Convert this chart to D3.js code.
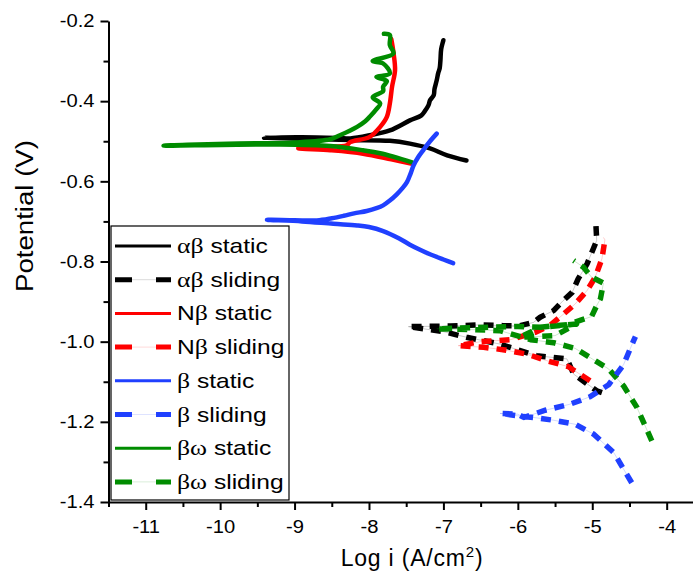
<!DOCTYPE html>
<html>
<head>
<meta charset="utf-8">
<script src="https://d3js.org/d3.v7.min.js"></script>
<style>
body{margin:0;background:#fff;}
text{font-family:"Liberation Sans",Arial,sans-serif;fill:#000;}
</style>
</head>
<body>
<div class="canvas"></div>
<script>
// Tafel curves: [log i, potential] pairs, cathodic end -> Ecorr -> anodic end
var abStatic = [[-6.69,-0.548],[-6.95,-0.535],[-7.18,-0.518],[-7.45,-0.506],[-7.72,-0.499],[-8.25,-0.497],[-8.6,-0.495],[-9.41,-0.491],[-8.9,-0.49],[-8.4,-0.492],[-8.25,-0.493],[-7.99,-0.485],[-7.72,-0.473],[-7.45,-0.448],[-7.3,-0.436],[-7.25,-0.425],[-7.2,-0.41],[-7.18,-0.398],[-7.13,-0.385],[-7.12,-0.37],[-7.09,-0.348],[-7.07,-0.33],[-7.05,-0.318],[-7.04,-0.298],[-7.03,-0.27],[-7.0,-0.248]];
var abSliding = [[-4.87,-1.127],[-4.94,-1.1225],[-5.25,-1.081],[-5.34,-1.043],[-5.75,-1.035],[-6.24,-1.006],[-6.69,-0.989],[-7.0,-0.975],[-7.47,-0.9625],[-6.9,-0.961],[-6.5,-0.958],[-6.2,-0.96],[-5.97,-0.96],[-5.79,-0.952],[-5.7,-0.939],[-5.52,-0.9225],[-5.39,-0.8975],[-5.27,-0.877],[-5.19,-0.8435],[-5.07,-0.806],[-5.01,-0.779],[-4.94,-0.7475],[-4.95,-0.712]];
var nbStatic = [[-7.42,-0.556],[-7.7,-0.545],[-8.08,-0.531],[-8.52,-0.5225],[-8.95,-0.5175],[-8.6,-0.514],[-8.3,-0.51],[-8.25,-0.502],[-7.99,-0.489],[-7.85,-0.464],[-7.76,-0.439],[-7.72,-0.406],[-7.69,-0.364],[-7.65,-0.3225],[-7.67,-0.28],[-7.7,-0.245]];
var nbSliding = [[-5.03,-1.0975],[-5.32,-1.0625],[-5.61,-1.0475],[-5.88,-1.031],[-6.2,-1.02],[-6.46,-1.014],[-6.8,-1.01],[-6.5,-1.0],[-6.1,-0.995],[-5.77,-0.977],[-5.57,-0.96],[-5.41,-0.935],[-5.23,-0.906],[-5.07,-0.8725],[-4.96,-0.839],[-4.87,-0.793],[-4.83,-0.746],[-4.85,-0.74]];
var bStatic = [[-6.87,-0.804],[-7.0,-0.795],[-7.18,-0.782],[-7.3,-0.772],[-7.45,-0.758],[-7.6,-0.742],[-7.81,-0.724],[-8.0,-0.714],[-8.16,-0.71],[-8.48,-0.706],[-8.9,-0.7],[-9.37,-0.696],[-9.0,-0.697],[-8.7,-0.6975],[-8.5,-0.692],[-8.34,-0.686],[-8.2,-0.68],[-8.03,-0.674],[-7.9,-0.667],[-7.81,-0.66],[-7.72,-0.648],[-7.63,-0.633],[-7.55,-0.617],[-7.49,-0.602],[-7.44,-0.58],[-7.4,-0.56],[-7.34,-0.54],[-7.27,-0.522],[-7.18,-0.5],[-7.09,-0.481]];
var bSliding = [[-4.47,-1.352],[-4.71,-1.277],[-4.98,-1.231],[-5.23,-1.206],[-5.52,-1.196],[-5.75,-1.19],[-6.0,-1.185],[-6.24,-1.179],[-6.0,-1.181],[-5.92,-1.189],[-5.63,-1.171],[-5.3,-1.156],[-5.03,-1.1375],[-4.78,-1.1075],[-4.58,-1.0575],[-4.45,-1.0],[-4.42,-0.9875]];
var bwStatic = [[-7.42,-0.5525],[-7.85,-0.53],[-8.08,-0.5225],[-8.52,-0.512],[-9.2,-0.508],[-10.76,-0.511],[-9.9,-0.506],[-9.0,-0.503],[-8.52,-0.495],[-8.39,-0.485],[-8.16,-0.464],[-8.05,-0.45],[-7.99,-0.439],[-7.9,-0.42],[-7.85,-0.406],[-7.95,-0.39],[-7.81,-0.375],[-7.81,-0.364],[-7.76,-0.35],[-7.9,-0.34],[-7.72,-0.331],[-7.81,-0.306],[-7.95,-0.3],[-7.67,-0.281],[-7.72,-0.26],[-7.72,-0.235],[-7.8,-0.232]];
var bwSliding = [[-4.2,-1.2475],[-4.4,-1.164],[-4.58,-1.11],[-4.78,-1.068],[-4.94,-1.05],[-5.23,-1.0167],[-5.52,-1.0025],[-5.83,-0.995],[-6.24,-0.9725],[-6.6,-0.97],[-7.09,-0.968],[-6.6,-0.965],[-6.0,-0.962],[-5.66,-0.964],[-5.21,-0.956],[-5.5,-0.985],[-5.97,-0.989],[-5.7,-0.964],[-5.34,-0.9575],[-5.01,-0.9375],[-4.94,-0.91],[-4.89,-0.893],[-4.85,-0.854],[-5.01,-0.839],[-5.12,-0.814],[-5.25,-0.7975]];

var legendNames = ['αβ static','αβ sliding','Nβ static','Nβ sliding','β static','β sliding','βω static','βω sliding'];
var xTicks = [-11,-10,-9,-8,-7,-6,-5,-4];
var xMinor = [-11.5,-10.5,-9.5,-8.5,-7.5,-6.5,-5.5,-4.5];
var yTicks = [-1.4,-1.2,-1.0,-0.8,-0.6,-0.4,-0.2];
var yMinor = [-1.3,-1.1,-0.9,-0.7,-0.5,-0.3];

var series = [
  {name:legendNames[0], data:abStatic, color:'#000000', dashed:false},
  {name:legendNames[1], data:abSliding, color:'#000000', dashed:true},
  {name:legendNames[2], data:nbStatic, color:'#ff0000', dashed:false},
  {name:legendNames[3], data:nbSliding, color:'#ff0000', dashed:true},
  {name:legendNames[4], data:bStatic, color:'#2040ff', dashed:false},
  {name:legendNames[5], data:bSliding, color:'#2040ff', dashed:true},
  {name:legendNames[6], data:bwStatic, color:'#008c00', dashed:false},
  {name:legendNames[7], data:bwSliding, color:'#008c00', dashed:true}
];
// drawing order (later on top)
var drawOrder = [0,2,6,4,1,3,7,5];

var svg = d3.select('.canvas').append('svg')
    .attr('width',693).attr('height',573);

var x = d3.scaleLinear().domain([-11.5,-3.5]).range([108.5,703.9]);
var y = d3.scaleLinear().domain([-1.4,-0.2]).range([502,21]);

var line = d3.line().x(function(d){ return x(d[0]); }).y(function(d){ return y(d[1]); });
var smooth = d3.line().curve(d3.curveCatmullRom.alpha(0.5))
    .x(function(d){ return x(d[0]); }).y(function(d){ return y(d[1]); });

var plot = svg.append('g');
drawOrder.forEach(function(i){
  var s = series[i];
  if(s.dashed){
    plot.append('path').attr('d',line(s.data)).attr('fill','none')
      .attr('stroke',s.color).attr('stroke-width',1).attr('stroke-opacity',0.2);
    plot.append('path').attr('d',line(s.data)).attr('fill','none')
      .attr('stroke',s.color).attr('stroke-width',5.5)
      .attr('stroke-dasharray','10,8').attr('stroke-linejoin','round');
  } else {
    plot.append('path').attr('d',smooth(s.data)).attr('fill','none')
      .attr('stroke',s.color).attr('stroke-width',4.5)
      .attr('stroke-linejoin','round').attr('stroke-linecap','round');
  }
});

// axes
svg.append('g').attr('transform','translate(0,502)')
  .call(d3.axisBottom(x).tickValues(xTicks).tickSize(8).tickPadding(10).tickSizeOuter(0)
    .tickFormat(function(d){ return String(d); }));
svg.append('g').attr('transform','translate(0,502)')
  .call(d3.axisBottom(x).tickValues(xMinor).tickSize(5).tickSizeOuter(0).tickFormat(''))
  .select('.domain').remove();
svg.append('g').attr('transform','translate(108.5,0)')
  .call(d3.axisLeft(y).tickValues(yTicks).tickSize(8).tickPadding(6).tickSizeOuter(0)
    .tickFormat(function(d){ return d.toFixed(1); }));
svg.append('g').attr('transform','translate(108.5,0)')
  .call(d3.axisLeft(y).tickValues(yMinor).tickSize(5).tickSizeOuter(0).tickFormat(''))
  .select('.domain').remove();

svg.selectAll('.domain, .tick line').attr('stroke','#000').attr('stroke-width',2);
svg.selectAll('.tick text').style('font-size','18px')
  .style('font-family','"Liberation Sans",Arial,sans-serif').attr('fill','#000')
  .each(function(){
    var w = this.getComputedTextLength();
    d3.select(this).attr('textLength', w*1.12).attr('lengthAdjust','spacingAndGlyphs');
  });

// axis titles
svg.append('text').attr('transform','translate(33,216) rotate(-90)')
  .attr('text-anchor','middle').style('font-size','23px')
  .attr('textLength',152).attr('lengthAdjust','spacingAndGlyphs')
  .text('Potential (V)');

var xt = svg.append('text').attr('x',412).attr('y',566)
  .attr('text-anchor','middle').style('font-size','23px').style('letter-spacing','0.8px');
xt.append('tspan').text('Log i (A/cm');
xt.append('tspan').text('2').attr('dy',-9).style('font-size','15px');
xt.append('tspan').text(')').attr('dy',9);

// legend
var legend = svg.append('g');
legend.append('rect').attr('x',111).attr('y',226).attr('width',178).attr('height',274)
  .attr('fill','#fff').attr('stroke','#000').attr('stroke-width',1.2);

var greek = /[α-ω]/;
series.forEach(function(s,i){
  var cy = 246 + i*33.7;
  if(s.dashed){
    legend.append('line').attr('x1',115).attr('x2',171).attr('y1',cy).attr('y2',cy)
      .attr('stroke',s.color).attr('stroke-width',1).attr('stroke-opacity',0.15);
    legend.append('line').attr('x1',115).attr('x2',171).attr('y1',cy).attr('y2',cy)
      .attr('stroke',s.color).attr('stroke-width',5).attr('stroke-dasharray','17,24');
  } else {
    legend.append('line').attr('x1',115).attr('x2',171).attr('y1',cy).attr('y2',cy)
      .attr('stroke',s.color).attr('stroke-width',3);
  }
  var t = legend.append('text').attr('x',177).attr('y',cy+7).style('font-size','21px');
  s.name.split('').forEach(function(c){
    var ts = t.append('tspan').text(c);
    if(greek.test(c)) ts.style('font-family','"Liberation Serif","Times New Roman",serif').style('font-size','22px');
  });
  var w = t.node().getComputedTextLength();
  t.attr('textLength', w*1.17).attr('lengthAdjust','spacingAndGlyphs');
});
</script>
</body>
</html>
